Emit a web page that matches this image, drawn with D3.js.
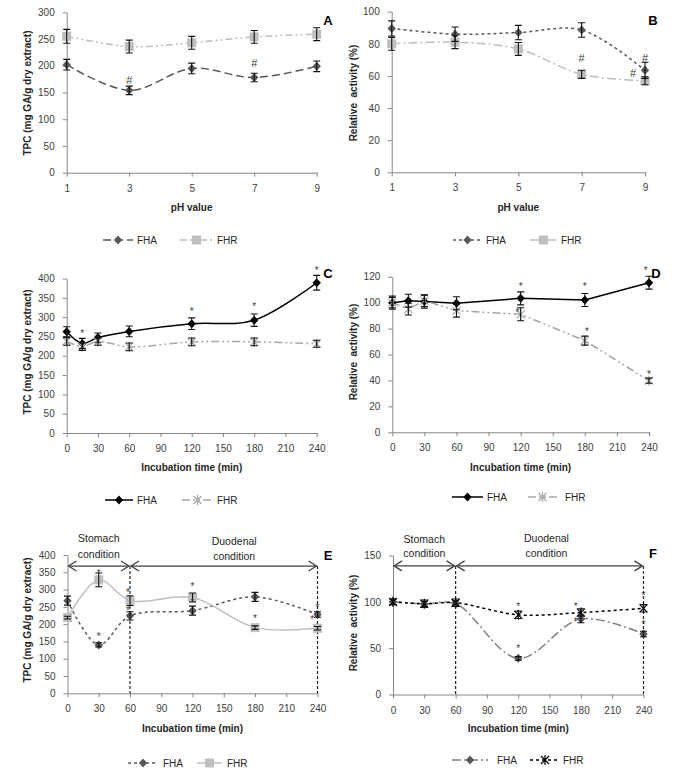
<!DOCTYPE html>
<html><head><meta charset="utf-8">
<script src="https://cdn.jsdelivr.net/npm/d3@7"></script>
<style>body{margin:0;background:#fff} text{font-family:"Liberation Sans",Arial,sans-serif}</style>
</head><body>
<svg id="c" width="674" height="774"></svg>
<script>
// ---------- DATA ----------
const phValues = [1, 3, 5, 7, 9];
const phTicks = [1, 3, 5, 7, 9];
const aFHA = [202, 154, 195, 178, 199];
const aFHAerr = [10, 8, 10, 8, 10];
const aFHR = [255, 236, 243, 254, 259];
const aFHRerr = [13, 12, 12, 12, 12];
const aMarks = [{x: 3, y: 173, t: "#"}, {x: 7, y: 205, t: "#"}];

const bFHA = [89.6, 86, 87, 88.6, 63.5];
const bFHAerr = [4.7, 4.5, 4.5, 4.5, 5];
const bFHR = [80, 81, 76.8, 61, 57];
const bFHRerr = [4, 4, 4, 2.5, 2.5];
const bMarks = [{x: 7, y: 71, t: "#"}, {x: 9, y: 71, t: "#"}, {x: 8.62, y: 61.5, t: "#"}];

const timeCD = [0, 15, 30, 60, 120, 180, 240];
const timeTicks = [0, 30, 60, 90, 120, 150, 180, 210, 240];
const cFHA = [262, 232, 247, 263, 283, 292, 389];
const cFHAerr = [13, 13, 12, 14, 15, 16, 19];
const cFHR = [237, 224, 237, 223, 236, 236, 231];
const cFHRerr = [10, 10, 10, 10, 10, 10, 9];
const cMarks = [{x: 15, y: 260}, {x: 120, y: 316}, {x: 180, y: 329}, {x: 240, y: 423}];

const dFHA = [100, 101.5, 100.8, 99.5, 103.3, 102, 115.4];
const dFHAerr = [5, 5, 5, 5, 5, 5, 5];
const dFHR = [100, 95, 101.5, 93.8, 91, 70.7, 39.8];
const dFHRerr = [4, 4.5, 4.5, 5, 5, 3.5, 2];
const dMarks = [{x: 120, y: 113}, {x: 180, y: 113}, {x: 237, y: 125}, {x: 117, y: 93}, {x: 182, y: 78}, {x: 240, y: 45}];

const timeEF = [0, 30, 60, 120, 180, 240];
const eFHA = [268, 140, 224, 239, 279, 228];
const eFHAerr = [13, 6, 12, 13, 13, 8];
const eFHR = [219, 328, 268, 277, 190, 188];
const eFHRerr = [4, 20, 14, 13, 5, 5];
const eMarks = [{x: 30, y: 347}, {x: 30, y: 166}, {x: 58, y: 294}, {x: 58, y: 241}, {x: 120, y: 310}, {x: 120, y: 265}, {x: 180, y: 217}, {x: 240, y: 249}, {x: 235, y: 214}];

const fFHA = [100, 97.7, 98, 39, 81.5, 65.3];
const fFHAerr = [3, 3, 3, 2, 4, 3];
const fFHR = [100, 98, 99, 86, 88.4, 93];
const fFHRerr = [3, 4, 4, 4, 4, 4];
const fMarks = [{x: 120, y: 96}, {x: 120, y: 50}, {x: 175, y: 95}, {x: 175, y: 79}, {x: 240, y: 107}, {x: 240, y: 76}];

const seriesNames = ["FHA", "FHR"];
const tpcTitle = "TPC (mg GA/g dry extract)";
const raTitle = "Relative  activity (%)";
const phTitle = "pH value";
const timeTitle = "Incubation time (min)";

// ---------- DRAWING ----------
const svg = d3.select("#c");
const starPath = "M-4,-4L4,4M-4,4L4,-4M0,-5L0,5";
const diamondPath = "M0,-4.5L4.2,0L0,4.5L-4.2,0Z";

function drawMarker(sel, type, color) {
  if (type === "diamond") {
    sel.append("path").attr("d", diamondPath).attr("fill", color);
  } else if (type === "square") {
    sel.append("rect").attr("x", -4.5).attr("y", -4.5).attr("width", 9).attr("height", 9).attr("fill", color);
  } else if (type === "star") {
    sel.append("path").attr("d", starPath).attr("fill", "none").attr("stroke", color).attr("stroke-width", 1.2);
  }
}

function panel(cfg) {
  const g = svg.append("g");
  const x = d3.scaleLinear().domain(cfg.xDomain).range([cfg.left, cfg.right]);
  const y = d3.scaleLinear().domain([0, cfg.yMax]).range([cfg.bottom, cfg.top]);

  const yAxis = g.append("g").attr("transform", `translate(${cfg.left},0)`)
    .call(d3.axisLeft(y).tickValues(cfg.yTicks).tickSize(4).tickSizeOuter(0).tickPadding(8));
  const xAxis = g.append("g").attr("transform", `translate(0,${cfg.bottom})`)
    .call(d3.axisBottom(x).tickValues(cfg.xTicks).tickSize(4).tickSizeOuter(0).tickPadding(8));
  [yAxis, xAxis].forEach(a => {
    a.selectAll("path,line").attr("stroke", "#868686");
    a.selectAll("text").attr("font-size", 10).attr("fill", "#404040")
      .attr("font-family", "'Liberation Sans',Arial,sans-serif");
  });

  // titles
  g.append("text").attr("x", (cfg.left + cfg.right) / 2).attr("y", cfg.xTitleY).attr("dy", "0.35em")
    .attr("text-anchor", "middle").attr("font-size", 10).attr("font-weight", "bold").attr("fill", "#262626").text(cfg.xTitle);
  g.append("text").attr("transform", `translate(${cfg.yTitleX},${cfg.yTitleY}) rotate(-90)`).attr("dy", "0.35em")
    .attr("text-anchor", "middle").attr("font-size", 10).attr("font-weight", "bold").attr("fill", "#262626")
    .style("white-space", "pre").text(cfg.yTitle);
  g.append("text").attr("x", cfg.letter[0]).attr("y", cfg.letter[1]).attr("dy", "0.35em")
    .attr("text-anchor", "middle").attr("font-size", 13).attr("font-weight", "bold").attr("fill", "#000").text(cfg.letterText);

  // stage annotations (E, F)
  if (cfg.stages) {
    const st = cfg.stages;
    const ay = y(st.arrowY);
    st.vlines.forEach(v => {
      g.append("line").attr("x1", x(v)).attr("x2", x(v)).attr("y1", ay).attr("y2", cfg.bottom)
        .attr("stroke", "#222").attr("stroke-width", 1.2).attr("stroke-dasharray", "3,2");
    });
    st.spans.forEach(s => {
      const x1 = x(s[0]) + 1, x2 = x(s[1]) - 1;
      g.append("line").attr("x1", x1).attr("x2", x2).attr("y1", ay).attr("y2", ay).attr("stroke", "#404040").attr("stroke-width", 1.3);
      g.append("path").attr("d", `M${x1 + 8},${ay - 5}L${x1},${ay}L${x1 + 8},${ay + 5}M${x2 - 8},${ay - 5}L${x2},${ay}L${x2 - 8},${ay + 5}`)
        .attr("fill", "none").attr("stroke", "#404040").attr("stroke-width", 1.3);
    });
    st.labels.forEach(l => {
      l.lines.forEach((t, i) => {
        g.append("text").attr("x", x(l.x)).attr("y", l.ys[i]).attr("dy", "0.35em").attr("text-anchor", "middle")
          .attr("font-size", 10.5).attr("fill", "#262626").text(t);
      });
    });
  }

  // series
  cfg.series.forEach(s => {
    const pts = cfg.xs.map((xv, i) => ({x: xv, y: s.values[i], e: s.errs[i]}));
    const line = d3.line().x(d => x(d.x)).y(d => y(d.y)).curve(cfg.smooth ? d3.curveCatmullRom.alpha(0.5) : d3.curveLinear);
    g.append("path").datum(pts).attr("d", line).attr("fill", "none").attr("stroke", s.lineColor)
      .attr("stroke-width", s.width || 1.5).attr("stroke-dasharray", s.dash || null);
  });
  cfg.series.forEach(s => {
    cfg.xs.forEach((xv, i) => {
      const m = g.append("g").attr("transform", `translate(${x(xv)},${y(s.values[i])})`);
      drawMarker(m, s.marker, s.markerColor);
    });
  });
  cfg.series.forEach(s => {
    cfg.xs.forEach((xv, i) => {
      const v = s.values[i], e = s.errs[i];
      const cx = x(xv), y1 = y(v + e), y2 = y(v - e);
      g.append("path").attr("d", `M${cx},${y1}L${cx},${y2}M${cx - 3.5},${y1}L${cx + 3.5},${y1}M${cx - 3.5},${y2}L${cx + 3.5},${y2}`)
        .attr("stroke", "#111").attr("stroke-width", 1.1).attr("fill", "none");
    });
  });

  // significance marks
  cfg.marks.forEach(mk => {
    const t = mk.t || "*";
    g.append("text").attr("x", x(mk.x)).attr("y", y(mk.y)).attr("dy", t === "#" ? "0.35em" : "0.4em")
      .attr("text-anchor", "middle").attr("font-size", t === "#" ? 11 : 10).attr("fill", "#404040").text(t);
  });

  // legend
  cfg.series.forEach((s, i) => {
    const L = cfg.legend.items[i], ly = cfg.legend.y;
    g.append("line").attr("x1", L[0]).attr("x2", L[1]).attr("y1", ly).attr("y2", ly).attr("stroke", s.lineColor)
      .attr("stroke-width", s.width || 1.5).attr("stroke-dasharray", s.dash || null);
    const m = g.append("g").attr("transform", `translate(${(L[0] + L[1]) / 2},${ly})`);
    drawMarker(m, s.marker, s.markerColor);
    g.append("text").attr("x", L[2]).attr("y", ly).attr("dy", "0.35em").attr("font-size", 10).attr("fill", "#262626").text(seriesNames[i]);
  });
}

const DG = "#595959", LG = "#bfbfbf";

panel({
  xDomain: [1, 9], xs: phValues, xTicks: phTicks, yMax: 300, yTicks: d3.range(0, 301, 50),
  left: 66.7, right: 316.7, top: 12.3, bottom: 172.7, smooth: true,
  xTitle: phTitle, xTitleY: 207, yTitle: tpcTitle, yTitleX: 27, yTitleY: 93,
  letter: [328, 20], letterText: "A",
  series: [
    {values: aFHA, errs: aFHAerr, lineColor: DG, dash: "8,4", marker: "diamond", markerColor: DG},
    {values: aFHR, errs: aFHRerr, lineColor: LG, dash: "7,3,2,3,2,3", marker: "square", markerColor: LG}
  ],
  marks: aMarks, legend: {y: 240, items: [[103, 133, 137], [180, 213, 217]]}
});

panel({
  xDomain: [1, 9], xs: phValues, xTicks: phTicks, yMax: 100, yTicks: d3.range(0, 101, 20),
  left: 391.7, right: 645, top: 11.7, bottom: 172.3, smooth: true,
  xTitle: phTitle, xTitleY: 207, yTitle: raTitle, yTitleX: 353, yTitleY: 93,
  letter: [653, 20], letterText: "B",
  series: [
    {values: bFHA, errs: bFHAerr, lineColor: DG, dash: "3,3", marker: "diamond", markerColor: DG},
    {values: bFHR, errs: bFHRerr, lineColor: LG, dash: "9,3,2,3", marker: "square", markerColor: LG}
  ],
  marks: bMarks, legend: {y: 240, items: [[453, 482, 486], [530, 557, 561]]}
});

panel({
  xDomain: [0, 240], xs: timeCD, xTicks: timeTicks, yMax: 400, yTicks: d3.range(0, 401, 50),
  left: 66.7, right: 316.7, top: 278.5, bottom: 433, smooth: true,
  xTitle: timeTitle, xTitleY: 467.7, yTitle: tpcTitle, yTitleX: 27, yTitleY: 352,
  letter: [328, 273], letterText: "C",
  series: [
    {values: cFHA, errs: cFHAerr, lineColor: "#000", marker: "diamond", markerColor: "#000"},
    {values: cFHR, errs: cFHRerr, lineColor: "#a6a6a6", dash: "8,3,2,3,2,3", marker: "star", markerColor: "#a6a6a6"}
  ],
  marks: cMarks, legend: {y: 500, items: [[105, 133, 137], [182, 213, 217]]}
});

panel({
  xDomain: [0, 240], xs: timeCD, xTicks: timeTicks, yMax: 120, yTicks: d3.range(0, 121, 20),
  left: 392.3, right: 649, top: 276.7, bottom: 432.3, smooth: false,
  xTitle: timeTitle, xTitleY: 467, yTitle: raTitle, yTitleX: 353, yTitleY: 352,
  letter: [656, 273], letterText: "D",
  series: [
    {values: dFHA, errs: dFHAerr, lineColor: "#000", marker: "diamond", markerColor: "#000"},
    {values: dFHR, errs: dFHRerr, lineColor: "#a6a6a6", dash: "8,3,2,3,2,3", marker: "star", markerColor: "#a6a6a6"}
  ],
  marks: dMarks, legend: {y: 497, items: [[452, 483, 487], [528, 557, 565]]}
});

panel({
  xDomain: [0, 240], xs: timeEF, xTicks: timeTicks, yMax: 400, yTicks: d3.range(0, 401, 50),
  left: 67.5, right: 317.5, top: 555, bottom: 693.3, smooth: true,
  xTitle: timeTitle, xTitleY: 728, yTitle: tpcTitle, yTitleX: 27, yTitleY: 620,
  letter: [328, 555], letterText: "E",
  stages: {arrowY: 368, vlines: [60, 240], spans: [[0, 60], [60, 240]],
    labels: [{x: 30, lines: ["Stomach", "condition"], ys: [538, 554]}, {x: 160, lines: ["Duodenal", "condition"], ys: [541.7, 556]}]},
  series: [
    {values: eFHA, errs: eFHAerr, lineColor: DG, dash: "3,3", marker: "diamond", markerColor: DG},
    {values: eFHR, errs: eFHRerr, lineColor: LG, marker: "square", markerColor: LG}
  ],
  marks: eMarks, legend: {y: 763, items: [[128, 158, 163], [197, 222, 227]]}
});

panel({
  xDomain: [0, 240], xs: timeEF, xTicks: timeTicks, yMax: 150, yTicks: [0, 50, 100, 150],
  left: 393, right: 643.5, top: 555.5, bottom: 694.5, smooth: true,
  xTitle: timeTitle, xTitleY: 728, yTitle: raTitle, yTitleX: 353, yTitleY: 623,
  letter: [653, 553], letterText: "F",
  stages: {arrowY: 138.8, vlines: [60, 240], spans: [[0, 60], [60, 240]],
    labels: [{x: 30, lines: ["Stomach", "condition"], ys: [539, 553]}, {x: 147, lines: ["Duodenal", "condition"], ys: [538, 553]}]},
  series: [
    {values: fFHA, errs: fFHAerr, lineColor: "#7f7f7f", dash: "9,3,2,3", marker: "diamond", markerColor: DG},
    {values: fFHR, errs: fFHRerr, lineColor: "#000", dash: "3,3", marker: "star", markerColor: "#000"}
  ],
  marks: fMarks, legend: {y: 760, items: [[452, 488, 497], [530, 560, 563]]}
});
</script>
</body></html>
